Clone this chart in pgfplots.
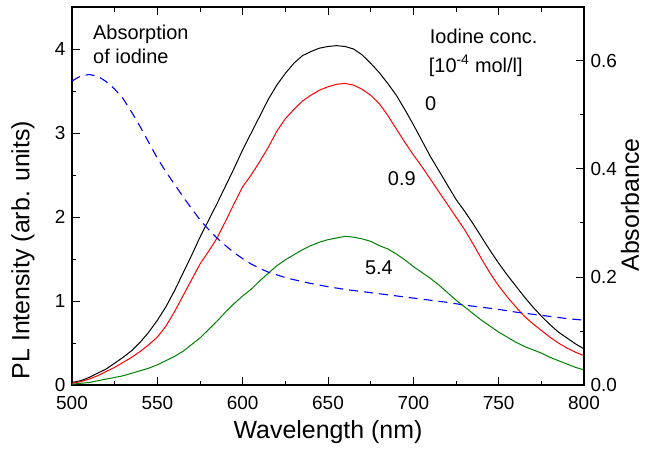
\documentclass[border=0pt]{standalone}
\usepackage{fontspec}
\setmainfont{Liberation Sans}
\usepackage{pgfplots}
\pgfplotsset{compat=1.18}
\definecolor{pgreen}{RGB}{0,128,0}
\pgfplotstableread{
x y
500 0.03
505 0.05
510 0.09
515 0.14
520 0.19
525 0.26
530 0.33
535 0.41
540 0.51
545 0.63
550 0.77
555 0.93
560 1.12
565 1.33
570 1.54
575 1.76
580 1.96
585 2.16
590 2.37
595 2.58
600 2.80
605 3.00
610 3.20
615 3.40
620 3.57
625 3.71
630 3.83
635 3.92
640 3.97
645 4.01
650 4.03
655 4.04
660 4.03
665 4.00
670 3.93
675 3.83
680 3.72
685 3.59
690 3.45
695 3.28
700 3.10
705 2.91
710 2.72
715 2.55
720 2.38
725 2.21
730 2.07
735 1.92
740 1.76
745 1.60
750 1.45
755 1.31
760 1.18
765 1.05
770 0.93
775 0.82
780 0.72
785 0.63
790 0.56
795 0.49
800 0.43
}\blacktab
\pgfplotstableread{
x y
500 0.02
505 0.04
510 0.07
515 0.11
520 0.16
525 0.21
530 0.27
535 0.33
540 0.40
545 0.48
550 0.57
555 0.70
560 0.87
565 1.06
570 1.25
575 1.44
580 1.59
585 1.75
590 1.95
595 2.16
600 2.36
605 2.50
610 2.66
615 2.83
620 3.02
625 3.17
630 3.28
635 3.38
640 3.45
645 3.51
650 3.55
655 3.58
660 3.59
665 3.57
670 3.52
675 3.45
680 3.35
685 3.21
690 3.05
695 2.89
700 2.74
705 2.60
710 2.45
715 2.30
720 2.15
725 2.00
730 1.85
735 1.68
740 1.50
745 1.33
750 1.18
755 1.05
760 0.93
765 0.82
770 0.73
775 0.65
780 0.57
785 0.50
790 0.44
795 0.39
800 0.35
}\redtab
\pgfplotstableread{
x y
500 0.01
505 0.02
510 0.03
515 0.05
520 0.07
525 0.09
530 0.11
535 0.14
540 0.17
545 0.20
550 0.24
555 0.29
560 0.34
565 0.40
570 0.48
575 0.56
580 0.66
585 0.76
590 0.87
595 0.97
600 1.06
605 1.14
610 1.24
615 1.33
620 1.42
625 1.49
630 1.55
635 1.61
640 1.66
645 1.70
650 1.73
655 1.75
660 1.77
665 1.76
670 1.74
675 1.71
680 1.66
685 1.62
690 1.56
695 1.49
700 1.41
705 1.34
710 1.27
715 1.19
720 1.10
725 1.01
730 0.93
735 0.85
740 0.77
745 0.70
750 0.63
755 0.57
760 0.51
765 0.46
770 0.42
775 0.38
780 0.33
785 0.29
790 0.25
795 0.21
800 0.18
}\greentab
\pgfplotstableread{
x y
500 0.563
505 0.572
510 0.575
515 0.572
520 0.562
525 0.548
530 0.530
535 0.505
540 0.478
545 0.449
550 0.420
555 0.395
560 0.372
565 0.349
570 0.327
575 0.306
580 0.288
585 0.272
590 0.258
595 0.245
600 0.234
605 0.224
610 0.216
615 0.209
620 0.204
625 0.199
630 0.195
640 0.188
650 0.182
660 0.177
670 0.173
680 0.169
690 0.165
700 0.161
710 0.157
720 0.153
730 0.148
740 0.144
750 0.140
760 0.135
770 0.131
780 0.127
790 0.123
800 0.120
}\bluetab
\begin{document}
\begin{tikzpicture}
\pgfplotsset{
  every axis/.append style={
    scale only axis, width=512bp, height=378bp,
    xmin=500, xmax=800,
    /pgf/number format/assume math mode=true,
    tick label style={font=\fontsize{19}{19}\selectfont},
    label style={font=\fontsize{25}{25}\selectfont},
    tick align=inside,
    major tick length=8bp, minor tick length=4.5bp,
    axis line style={line width=1.2bp},
    every tick/.style={line width=1bp, black},
  }
}
\begin{axis}[
  ymin=0, ymax=4.5,
  xtick={500,550,...,800}, minor x tick num=1,
  ytick={0,1,2,3,4}, minor y tick num=1,
  xtick pos=both, ytick pos=left,
  xticklabel style={yshift=-8bp},
  yticklabel style={xshift=-3bp},
  xlabel={Wavelength (nm)},
  ylabel={PL Intensity (arb. units)},
  xlabel style={at={(axis description cs:0.5,-0.124)}, anchor=center},
  ylabel style={at={(axis description cs:-0.096,0.357)}, anchor=center},
]
\addplot[black, line width=1bp] table {\blacktab};
\addplot[red, line width=1bp] table {\redtab};
\addplot[pgreen, line width=1bp] table {\greentab};
\node[anchor=base west, inner sep=0, font=\fontsize{20}{20}\selectfont] at (axis cs:512.3,4.119) {Absorption};
\node[anchor=base west, inner sep=0, font=\fontsize{20}{20}\selectfont] at (axis cs:512.3,3.833) {of iodine};
\node[anchor=base west, inner sep=0, font=\fontsize{20}{20}\selectfont] at (axis cs:709.6,4.071) {Iodine conc.};
\node[anchor=base west, inner sep=0, font=\fontsize{20}{20}\selectfont] at (axis cs:709.0,3.726) {[10\textsuperscript{-4} mol/l]};
\node[anchor=base west, inner sep=0, font=\fontsize{20}{20}\selectfont] at (axis cs:706.8,3.27) {0};
\node[anchor=base west, inner sep=0, font=\fontsize{20}{20}\selectfont] at (axis cs:685,2.38) {0.9};
\node[anchor=base west, inner sep=0, font=\fontsize{20}{20}\selectfont] at (axis cs:671.6,1.31) {5.4};
\end{axis}
\begin{axis}[
  ymin=0, ymax=0.7,
  axis x line=none, axis y line*=right,
  ytick={0,0.2,0.4,0.6}, minor y tick num=1,
  yticklabel style={xshift=3bp, /pgf/number format/fixed, /pgf/number format/precision=1, /pgf/number format/fixed zerofill},
  ylabel={Absorbance},
  ylabel style={at={(axis description cs:1.09,0.476)}, anchor=center, rotate=0},
]
\addplot[blue, line width=1.1bp, dash pattern=on 9bp off 6bp] table {\bluetab};
\end{axis}
\useasboundingbox (-72bp,-64bp) rectangle (578bp,385bp);
\end{tikzpicture}
\end{document}
